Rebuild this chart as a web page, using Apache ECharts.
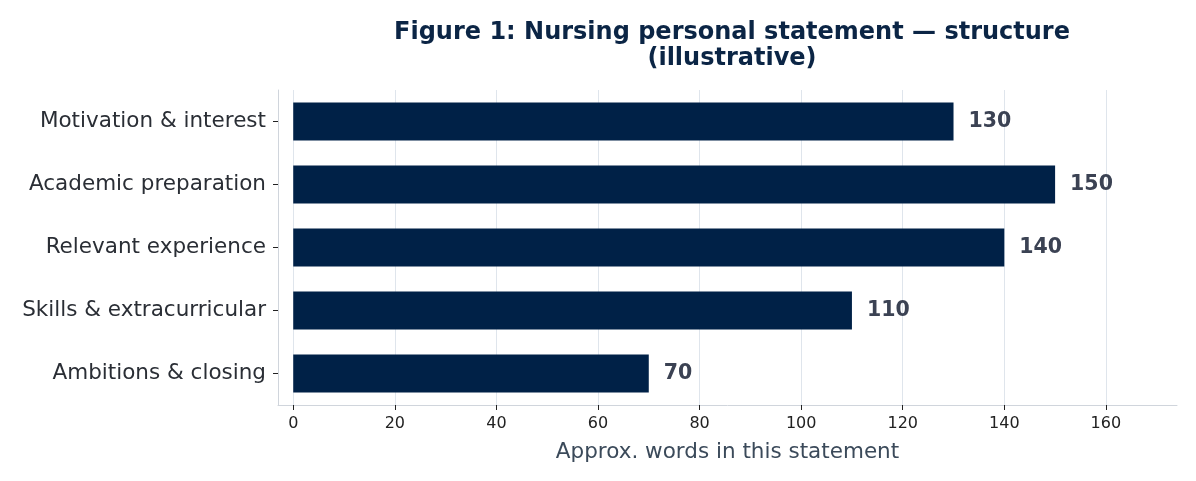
<!DOCTYPE html>
<html lang="en">
<head>
<meta charset="utf-8">
<title>Nursing personal statement — structure</title>
<script src="https://cdn.jsdelivr.net/npm/echarts@6/dist/echarts.min.js"></script>
<style>
  html, body { margin: 0; padding: 0; background: #ffffff; }
  #chart { width: 1196px; height: 481px; }
</style>
</head>
<body>
<div id="chart"></div>
<script type="text/javascript">
// 数据
var sections = ['Motivation & interest', 'Academic preparation', 'Relevant experience', 'Skills & extracurricular', 'Ambitions & closing'];
var words = [130, 150, 140, 110, 70];
var xTicks = [0, 20, 40, 60, 80, 100, 120, 140, 160];

var myChart = echarts.init(document.getElementById('chart'));
var option = {
    backgroundColor: '#ffffff',
    animation: false,
    title: {
        text: 'Figure 1: Nursing personal statement — structure\n(illustrative)',
        left: 727,
        top: 15,
        textAlign: 'center',
        textStyle: {
            fontFamily: 'DejaVu Sans',
            fontSize: 24,
            fontWeight: 'bold',
            color: '#0b2545',
            lineHeight: 26
        }
    },
    grid: {
        left: 278,
        right: 19,
        top: 90,
        bottom: 76
    },
    xAxis: {
        type: 'value',
        min: -3,
        max: 174,
        interval: 1,
        name: 'Approx. words in this statement',
        nameLocation: 'middle',
        nameGap: 36,
        nameTextStyle: { fontFamily: 'DejaVu Sans', fontSize: 21.5, color: '#3b4a5a' },
        axisLine: { show: true, onZero: false, lineStyle: { color: '#d0d5dc', width: 1 } },
        axisTick: {
            show: true, length: 5, lineStyle: { color: '#222222' },
            customValues: xTicks
        },
        axisLabel: {
            fontFamily: 'DejaVu Sans', fontSize: 16, color: '#222222', margin: 11,
            customValues: xTicks
        },
        splitLine: {
            show: true,
            lineStyle: { color: '#dfe5ec', width: 1 },
            customValues: xTicks
        }
    },
    yAxis: {
        type: 'category',
        inverse: true,
        data: sections,
        axisLine: { show: true, onZero: false, lineStyle: { color: '#d0d5dc', width: 1 } },
        axisTick: { show: true, alignWithLabel: true, length: 5, lineStyle: { color: '#222222' } },
        axisLabel: { fontFamily: 'DejaVu Sans', fontSize: 21.5, color: '#2a2e35', margin: 12 },
        splitLine: { show: false }
    },
    series: [{
        type: 'bar',
        data: words,
        barWidth: 38,
        itemStyle: { color: '#002147' },
        label: {
            show: true,
            position: 'right',
            distance: 15,
            fontFamily: 'DejaVu Sans',
            fontSize: 20.5,
            fontWeight: 'bold',
            color: '#3b4253'
        }
    }]
};
myChart.setOption(option);
</script>
</body>
</html>
